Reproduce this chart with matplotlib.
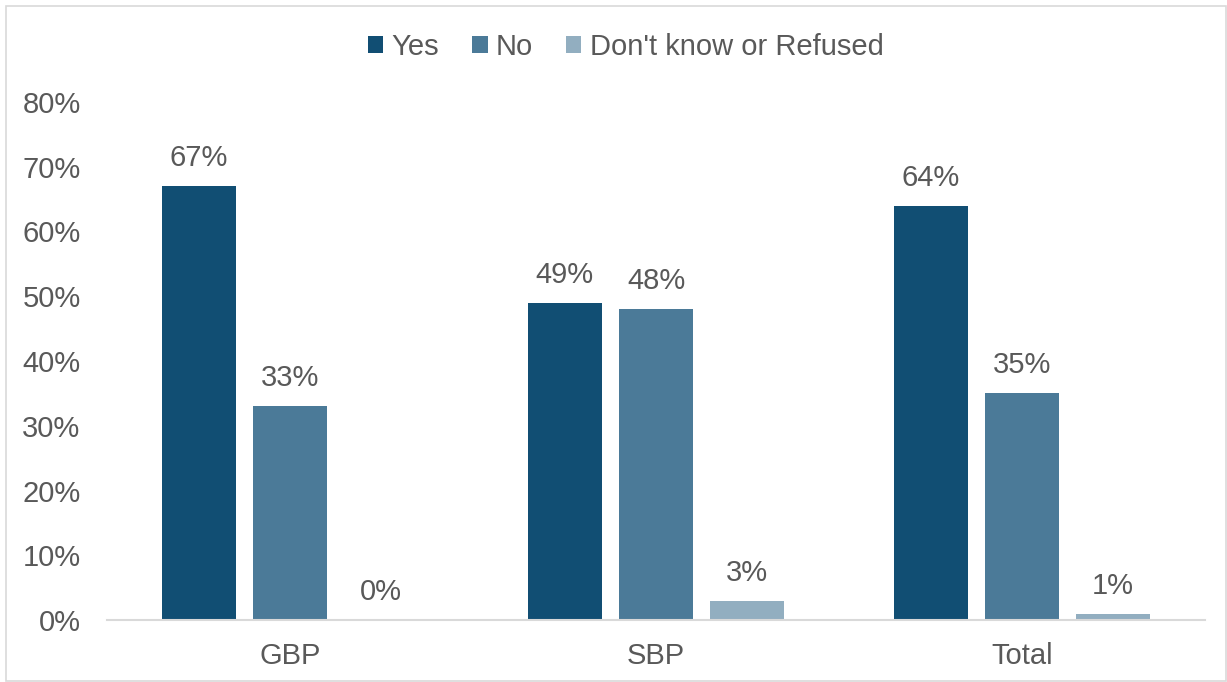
import numpy as np
import matplotlib.pyplot as plt
from matplotlib.patches import Rectangle

categories = ["GBP", "SBP", "Total"]
series_names = ["Yes", "No", "Don't know or Refused"]
yes_vals = [67, 49, 64]
no_vals = [33, 48, 35]
dk_vals = [0, 3, 1]
y_ticks = [0, 10, 20, 30, 40, 50, 60, 70, 80]

colors = ["#114E73", "#4B7A98", "#92AEC0"]
text_color = "#595959"

plt.rcParams["font.family"] = ["Liberation Sans", "DejaVu Sans"]

fig = plt.figure(figsize=(12.27, 6.82), dpi=100)
ax = fig.add_axes([107 / 1227, 62 / 682, 1098 / 1227, 518 / 682])

x = np.arange(len(categories))
width = 0.202
step = 0.249

for i, (name, vals) in enumerate(zip(series_names, [yes_vals, no_vals, dk_vals])):
    pos = x + (i - 1) * step
    bars = ax.bar(pos, vals, width=width, color=colors[i], label=name)
    for b, v in zip(bars, vals):
        ax.annotate(f"{v}%", (b.get_x() + b.get_width() / 2, v),
                    xytext=(0, 10), textcoords="offset points",
                    ha="center", va="bottom", fontsize=21, color=text_color)

ax.set_xlim(-0.5, 2.5)
ax.set_ylim(0, 80)
ax.set_yticks(y_ticks)
ax.set_yticklabels([f"{t}%" for t in y_ticks])
ax.set_xticks(x)
ax.set_xticklabels(categories)
ax.tick_params(axis="y", length=0, pad=19, labelsize=21, labelcolor=text_color)
ax.tick_params(axis="x", length=0, pad=16, labelsize=21, labelcolor=text_color)

for s in ["top", "right", "left"]:
    ax.spines[s].set_visible(False)
ax.spines["bottom"].set_color("#D9D9D9")
ax.spines["bottom"].set_linewidth(1.5)

leg = fig.legend(loc="center", bbox_to_anchor=(0.51, 1 - 47 / 682), ncol=3,
                 frameon=False, fontsize=21, handlelength=0.52, handleheight=0.52,
                 handletextpad=0.28, columnspacing=1.14, labelcolor=text_color)

fig.patches.append(Rectangle((6 / 1227, 1 / 682), 1 - 7 / 1227, 1 - 7 / 682,
                             transform=fig.transFigure, fill=False,
                             edgecolor="#D9D9D9", linewidth=1.2))

fig.savefig("out.png", dpi=100)
